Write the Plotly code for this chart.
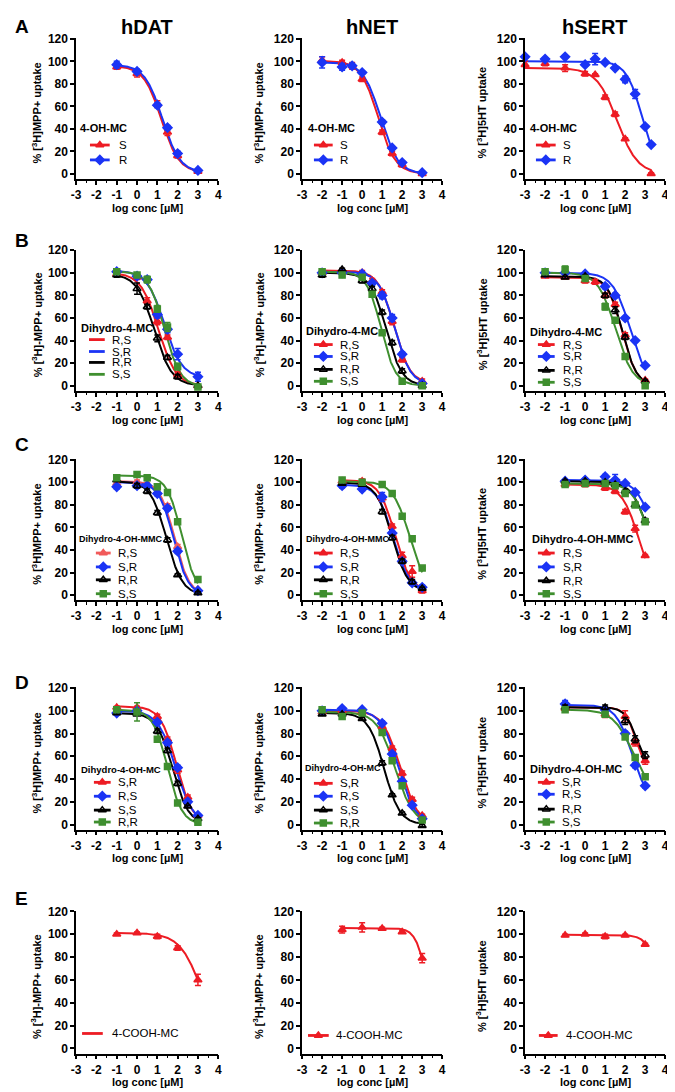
import numpy as np
import plotly.graph_objects as go

W, H = 675, 1092
SHIFT = 8  # page body margin offset compensation
FONT = "Liberation Sans, Arial, sans-serif"

# ---------------- tick / label data ----------------
x_ticks = [-3, -2, -1, 0, 1, 2, 3, 4]
x_tick_labels = ["-3", "-2", "-1", "0", "1", "2", "3", "4"]
y_ticks = [0, 20, 40, 60, 80, 100, 120]
columns = ["hDAT", "hNET", "hSERT"]
row_letters = ["A", "B", "C", "D", "E"]
x_title = "log conc [µM]"

# fit parameters are [top, bottom, logIC50, Hill slope]

# ---------------- A: 4-OH-MC ----------------
A_DAT_conc = [-1, 0, 1, 1.5, 2, 3]
A_DAT_S = [95, 89, 62, 37, 16, 2]
A_DAT_S_err = [2, 3, 3, 3, 2, 1]
A_DAT_R = [97, 91, 61, 41, 18, 3]
A_DAT_R_err = [3, 2, 2, 2, 2, 1]
A_DAT_S_fit = [96, 1, 1.2, 1.0]
A_DAT_R_fit = [97, 1, 1.25, 1.0]

A_NET_conc = [-2, -1, -0.5, 0, 1, 1.5, 2, 3]
A_NET_S = [101, 99, 96, 84, 37, 18, 8, 0]
A_NET_S_err = [3, 2, 3, 2, 2, 2, 2, 1]
A_NET_R = [99, 95, 96, 90, 46, 23, 10, 1]
A_NET_R_err = [5, 3, 2, 1, 2, 1, 1, 1]
A_NET_S_fit = [100.5, 0, 0.8, 1.0]
A_NET_R_fit = [99, 0, 0.93, 1.0]

A_SERT_S_conc = [-3, -2, -1, 0, 0.5, 1, 1.5, 2, 3.3]
A_SERT_S = [97, 98, 94, 89, 88, 68, 53, 31, 0]
A_SERT_S_err = [3, 2, 3, 2, 1, 2, 2, 1, 1]
A_SERT_R_conc = [-3, -2, -1, 0, 0.5, 1, 1.5, 2, 2.5, 3, 3.3]
A_SERT_R = [104, 102, 104, 97, 102, 99, 94, 84, 71, 42, 26]
A_SERT_R_err = [1, 1, 1, 1, 5, 1, 1, 3, 4, 1, 1]
A_SERT_S_fit = [94, 0, 1.6, 0.85]
A_SERT_R_fit = [100, 0, 2.85, 1.1]

# ---------------- B: Dihydro-4-MC ----------------
B_DAT_conc = [-1, 0, 0.5, 1, 1.5, 2, 3]
B_DAT_RS = [99, 96, 75, 57, 43, 10, 0]
B_DAT_SR = [101, 97, 94, 63, 50, 28, 8]
B_DAT_RR = [98, 86, 70, 42, 25, 8, 0]
B_DAT_SS = [101, 98, 94, 68, 52, 17, -1]
B_DAT_RS_err = [2, 2, 3, 3, 2, 2, 1]
B_DAT_SR_err = [2, 2, 2, 3, 3, 5, 4]
B_DAT_RR_err = [2, 5, 2, 3, 2, 2, 1]
B_DAT_SS_err = [2, 2, 3, 3, 4, 3, 1]
B_DAT_RS_fit = [100, 0, 1.05, 1.0]
B_DAT_SR_fit = [102, 7, 1.35, 1.0]
B_DAT_RR_fit = [99, 0, 0.85, 1.0]
B_DAT_SS_fit = [101.5, -1, 1.35, 1.1]

B_NET_conc = [-2, -1, 0, 0.5, 1, 1.5, 2, 3]
B_NET_RS = [100, 102, 100, 93, 83, 57, 23, 4]
B_NET_SR = [100, 100, 99, 91, 80, 60, 28, 2]
B_NET_RR = [98, 103, 93, 86, 65, 38, 13, 0]
B_NET_SS = [101, 98, 96, 81, 47, None, 4, 0]
B_NET_RS_err = [2, 1, 2, 2, 2, 3, 2, 2]
B_NET_SR_err = [2, 1, 2, 2, 3, 3, 2, 1]
B_NET_RR_err = [2, 1, 2, 2, 2, 2, 2, 1]
B_NET_SS_err = [2, 1, 1, 2, 2, 0, 1, 1]
B_NET_RS_fit = [102, 2, 1.6, 1.1]
B_NET_SR_fit = [101, 1, 1.62, 1.1]
B_NET_RR_fit = [100, 0, 1.2, 1.1]
B_NET_SS_fit = [101, 0, 0.95, 1.2]

B_SERT_conc = [-2, -1, 0, 0.5, 1, 1.5, 2, 2.5, 3]
B_SERT_RS = [97, 96, 93, 92, 80, 72, 45, None, 5]
B_SERT_SR = [100, 100, 99, None, 88, 80, 60, 40, 18]
B_SERT_RR = [98, 96, 97, None, 80, 67, 43, None, 4]
B_SERT_SS = [101, 103, 95, None, 70, 58, 26, None, 0]
B_SERT_RS_err = [1, 1, 2, 2, 2, 2, 2, 0, 1]
B_SERT_SR_err = [1, 1, 1, 0, 2, 2, 1, 1, 1]
B_SERT_RR_err = [1, 1, 1, 0, 2, 3, 2, 0, 1]
B_SERT_SS_err = [1, 3, 2, 0, 3, 2, 1, 0, 1]
B_SERT_RS_fit = [96, 0, 1.85, 1.2]
B_SERT_SR_fit = [100, 0, 2.25, 1.0]
B_SERT_RR_fit = [97, 0, 1.85, 1.2]
B_SERT_SS_fit = [100, 0, 1.52, 1.0]

# ---------------- C: Dihydro-4-OH-MMC ----------------
C_DAT_conc = [-1, 0, 0.5, 1, 1.5, 2, 3]
C_DAT_RS = [99, 100, 98, 91, 79, 43, 5]
C_DAT_SR = [96, 97, 97, 90, 77, 39, 4]
C_DAT_RR = [102, 97, 92, 73, 49, 18, 2]
C_DAT_SS = [104, 107, 104, 96, 91, 65, 14]
C_DAT_RS_err = [2, 2, 2, 2, 2, 2, 1]
C_DAT_SR_err = [2, 2, 1, 2, 2, 2, 1]
C_DAT_RR_err = [1, 2, 2, 2, 2, 1, 1]
C_DAT_SS_err = [1, 2, 1, 2, 1, 2, 1]
C_DAT_RS_fit = [101, 0, 1.85, 1.2]
C_DAT_SR_fit = [100, 0, 1.8, 1.2]
C_DAT_RR_fit = [101, 0, 1.45, 1.1]
C_DAT_SS_fit = [106, 0, 2.2, 1.2]

C_NET_conc = [-1, 0, 1, 1.5, 2, 2.5, 3]
C_NET_RS = [101, 101, 86, 61, 35, 21, 4]
C_NET_SR = [97, 94, 87, 55, 30, 11, 7]
C_NET_RR = [99, 98, 74, 51, 30, 12, 6]
C_NET_SS = [102, 100, 98, 90, 70, 50, 24]
C_NET_RS_err = [2, 2, 3, 2, 3, 5, 2]
C_NET_SR_err = [2, 2, 4, 2, 2, 2, 2]
C_NET_RR_err = [1, 1, 2, 2, 2, 2, 1]
C_NET_SS_err = [1, 1, 1, 1, 1, 1, 1]
C_NET_RS_fit = [102, 3, 1.65, 1.1]
C_NET_SR_fit = [98, 4, 1.55, 1.1]
C_NET_RR_fit = [100, 3, 1.5, 1.1]
C_NET_SS_fit = [101, 0, 2.4, 1.0]

C_SERT_conc = [-1, 0, 1, 1.5, 2, 2.5, 3]
C_SERT_RS = [98, 98, 95, 92, 74, 59, 35]
C_SERT_SR = [101, 102, 105, 102, 99, 91, 78]
C_SERT_RR = [101, 101, 100, 98, 92, 80, 66]
C_SERT_SS = [98, 99, 99, 97, 90, 80, 65]
C_SERT_RS_err = [1, 2, 2, 2, 2, 3, 1]
C_SERT_SR_err = [1, 1, 2, 5, 1, 1, 1]
C_SERT_RR_err = [1, 1, 1, 1, 1, 1, 2]
C_SERT_SS_err = [1, 1, 1, 1, 1, 2, 1]
C_SERT_RS_fit = [98, 0, 2.7, 1.0]
C_SERT_SR_fit = [102, 0, 3.5, 1.0]
C_SERT_RR_fit = [101, 0, 3.25, 1.0]
C_SERT_SS_fit = [99, 0, 3.25, 1.05]

# ---------------- D: Dihydro-4-OH-MC ----------------
D_DAT_conc = [-1, 0, 1, 1.5, 2, 2.5, 3]
D_DAT_SR = [103, 103, 95, 75, 48, 24, 8]
D_DAT_RS = [98, 100, 90, 72, 50, 20, 8]
D_DAT_SS = [98, 97, 82, 65, 36, 16, 5]
D_DAT_RR = [101, 99, 75, 51, 19, None, 2]
D_DAT_SR_err = [1, 1, 2, 2, 3, 2, 1]
D_DAT_RS_err = [1, 1, 2, 2, 2, 2, 1]
D_DAT_SS_err = [1, 1, 2, 2, 2, 1, 1]
D_DAT_RR_err = [1, 8, 2, 2, 1, 0, 1]
D_DAT_SR_fit = [104, 0, 1.95, 1.1]
D_DAT_RS_fit = [100, 0, 1.9, 1.0]
D_DAT_SS_fit = [98, 0, 1.75, 1.1]
D_DAT_RR_fit = [101, 0, 1.5, 1.2]

D_NET_conc = [-2, -1, 0, 1, 1.5, 2, 2.5, 3]
D_NET_SR = [99, 100, 99, 86, 67, 45, 22, 8]
D_NET_RS = [100, 102, 101, 89, 62, 38, 17, 5]
D_NET_SS = [97, 97, 93, 54, 26, 10, None, -1]
D_NET_RR = [101, 95, 98, 81, 56, 34, None, 4]
D_NET_SR_err = [1, 1, 1, 2, 2, 2, 2, 1]
D_NET_RS_err = [1, 1, 1, 2, 2, 2, 1, 1]
D_NET_SS_err = [1, 1, 1, 2, 1, 1, 0, 1]
D_NET_RR_err = [2, 2, 2, 2, 2, 1, 0, 1]
D_NET_SR_fit = [100, 0, 1.9, 1.0]
D_NET_RS_fit = [101, 0, 1.8, 1.0]
D_NET_SS_fit = [98, 0, 1.1, 1.1]
D_NET_RR_fit = [99, 0, 1.65, 0.95]

D_SERT_conc = [-1, 1, 2, 2.5, 3]
D_SERT_SR = [102, 97, 95, 72, 56]
D_SERT_RS = [106, 101, 80, 52, 34]
D_SERT_RR = [103, 103, 91, 75, 61]
D_SERT_SS = [101, 97, 77, 59, 42]
D_SERT_SR_err = [2, 3, 5, 3, 3]
D_SERT_RS_err = [3, 2, 2, 2, 2]
D_SERT_RR_err = [2, 2, 3, 3, 3]
D_SERT_SS_err = [1, 2, 2, 2, 2]
D_SERT_SR_fit = [103, 45, 2.55, 1.6]
D_SERT_RS_fit = [105, 20, 2.33, 1.1]
D_SERT_RR_fit = [103, 50, 2.55, 1.5]
D_SERT_SS_fit = [101, 25, 2.4, 0.87]

# ---------------- E: 4-COOH-MC ----------------
E_conc = [-1, 0, 1, 2, 3]
E_DAT = [100, 101, 98, 88, 60]
E_DAT_err = [1, 1, 2, 2, 5]
E_DAT_fit = [101, 0, 3.2, 0.8]
E_NET = [104, 106, 105, 102, 79]
E_NET_err = [3, 4, 1, 1, 4]
E_NET_fit = [105.5, 0, 3.3, 1.5]
E_SERT = [99, 100, 98, 99, 91]
E_SERT_err = [1, 1, 2, 1, 1]
E_SERT_fit = [99.5, 0, 3.85, 1.3]

# ---------------- styles ----------------
RED = "#ed1c24"
RED_LIGHT = "#f15a5a"
BLUE = "#1b34f5"
BLACK = "#000000"
GREEN = "#3f8f2f"
TRI = ("triangle-up", 7)
DIA = ("diamond", 7)
OTRI = ("triangle-up-open", 7)
SQ = ("square", 6)

MPP = "% [<sup>3</sup>H]MPP+ uptake"
MPP2 = "% [<sup>3</sup>H]-MPP+ uptake"
SHT = "% [<sup>3</sup>H]5HT uptake"

panels = [
    # row A
    dict(ylab=MPP, ltitle="4-OH-MC", lfs=11, series=[
        ("S", A_DAT_conc, A_DAT_S, A_DAT_S_err, A_DAT_S_fit, RED, TRI),
        ("R", A_DAT_conc, A_DAT_R, A_DAT_R_err, A_DAT_R_fit, BLUE, DIA)]),
    dict(ylab=MPP, ltitle="4-OH-MC", lfs=11, series=[
        ("S", A_NET_conc, A_NET_S, A_NET_S_err, A_NET_S_fit, RED, TRI),
        ("R", A_NET_conc, A_NET_R, A_NET_R_err, A_NET_R_fit, BLUE, DIA)]),
    dict(ylab=SHT, ltitle="4-OH-MC", lfs=11, series=[
        ("S", A_SERT_S_conc, A_SERT_S, A_SERT_S_err, A_SERT_S_fit, RED, TRI),
        ("R", A_SERT_R_conc, A_SERT_R, A_SERT_R_err, A_SERT_R_fit, BLUE, DIA)]),
    # row B
    dict(ylab=MPP2, ltitle="Dihydro-4-MC", lfs=11, lmarkers=False, series=[
        ("R,S", B_DAT_conc, B_DAT_RS, B_DAT_RS_err, B_DAT_RS_fit, RED, TRI),
        ("S,R", B_DAT_conc, B_DAT_SR, B_DAT_SR_err, B_DAT_SR_fit, BLUE, DIA),
        ("R,R", B_DAT_conc, B_DAT_RR, B_DAT_RR_err, B_DAT_RR_fit, BLACK, OTRI),
        ("S,S", B_DAT_conc, B_DAT_SS, B_DAT_SS_err, B_DAT_SS_fit, GREEN, SQ)]),
    dict(ylab=MPP2, ltitle="Dihydro-4-MC", lfs=11, series=[
        ("R,S", B_NET_conc, B_NET_RS, B_NET_RS_err, B_NET_RS_fit, RED, TRI),
        ("S,R", B_NET_conc, B_NET_SR, B_NET_SR_err, B_NET_SR_fit, BLUE, DIA),
        ("R,R", B_NET_conc, B_NET_RR, B_NET_RR_err, B_NET_RR_fit, BLACK, OTRI),
        ("S,S", B_NET_conc, B_NET_SS, B_NET_SS_err, B_NET_SS_fit, GREEN, SQ)]),
    dict(ylab=SHT, ltitle="Dihydro-4-MC", lfs=11, series=[
        ("R,S", B_SERT_conc, B_SERT_RS, B_SERT_RS_err, B_SERT_RS_fit, RED, TRI),
        ("S,R", B_SERT_conc, B_SERT_SR, B_SERT_SR_err, B_SERT_SR_fit, BLUE, DIA),
        ("R,R", B_SERT_conc, B_SERT_RR, B_SERT_RR_err, B_SERT_RR_fit, BLACK, OTRI),
        ("S,S", B_SERT_conc, B_SERT_SS, B_SERT_SS_err, B_SERT_SS_fit, GREEN, SQ)]),
    # row C
    dict(ylab=MPP, ltitle="Dihydro-4-OH-MMC", lfs=9, series=[
        ("R,S", C_DAT_conc, C_DAT_RS, C_DAT_RS_err, C_DAT_RS_fit, RED_LIGHT, TRI),
        ("S,R", C_DAT_conc, C_DAT_SR, C_DAT_SR_err, C_DAT_SR_fit, BLUE, DIA),
        ("R,R", C_DAT_conc, C_DAT_RR, C_DAT_RR_err, C_DAT_RR_fit, BLACK, OTRI),
        ("S,S", C_DAT_conc, C_DAT_SS, C_DAT_SS_err, C_DAT_SS_fit, GREEN, SQ)]),
    dict(ylab=MPP, ltitle="Dihydro-4-OH-MMC", lfs=9, series=[
        ("R,S", C_NET_conc, C_NET_RS, C_NET_RS_err, C_NET_RS_fit, RED, TRI),
        ("S,R", C_NET_conc, C_NET_SR, C_NET_SR_err, C_NET_SR_fit, BLUE, DIA),
        ("R,R", C_NET_conc, C_NET_RR, C_NET_RR_err, C_NET_RR_fit, BLACK, OTRI),
        ("S,S", C_NET_conc, C_NET_SS, C_NET_SS_err, C_NET_SS_fit, GREEN, SQ)]),
    dict(ylab=SHT, ltitle="Dihydro-4-OH-MMC", lfs=11, series=[
        ("R,S", C_SERT_conc, C_SERT_RS, C_SERT_RS_err, C_SERT_RS_fit, RED, TRI),
        ("S,R", C_SERT_conc, C_SERT_SR, C_SERT_SR_err, C_SERT_SR_fit, BLUE, DIA),
        ("R,R", C_SERT_conc, C_SERT_RR, C_SERT_RR_err, C_SERT_RR_fit, BLACK, OTRI),
        ("S,S", C_SERT_conc, C_SERT_SS, C_SERT_SS_err, C_SERT_SS_fit, GREEN, SQ)]),
    # row D
    dict(ylab=MPP, ltitle="Dihydro-4-OH-MC", lfs=9.5, series=[
        ("S,R", D_DAT_conc, D_DAT_SR, D_DAT_SR_err, D_DAT_SR_fit, RED, TRI),
        ("R,S", D_DAT_conc, D_DAT_RS, D_DAT_RS_err, D_DAT_RS_fit, BLUE, DIA),
        ("S,S", D_DAT_conc, D_DAT_SS, D_DAT_SS_err, D_DAT_SS_fit, BLACK, OTRI),
        ("R,R", D_DAT_conc, D_DAT_RR, D_DAT_RR_err, D_DAT_RR_fit, GREEN, SQ)]),
    dict(ylab=MPP, ltitle="Dihydro-4-OH-MC", lfs=9, series=[
        ("S,R", D_NET_conc, D_NET_SR, D_NET_SR_err, D_NET_SR_fit, RED, TRI),
        ("R,S", D_NET_conc, D_NET_RS, D_NET_RS_err, D_NET_RS_fit, BLUE, DIA),
        ("S,S", D_NET_conc, D_NET_SS, D_NET_SS_err, D_NET_SS_fit, BLACK, OTRI),
        ("R,R", D_NET_conc, D_NET_RR, D_NET_RR_err, D_NET_RR_fit, GREEN, SQ)]),
    dict(ylab=SHT, ltitle="Dihydro-4-OH-MC", lfs=11, series=[
        ("S,R", D_SERT_conc, D_SERT_SR, D_SERT_SR_err, D_SERT_SR_fit, RED, TRI),
        ("R,S", D_SERT_conc, D_SERT_RS, D_SERT_RS_err, D_SERT_RS_fit, BLUE, DIA),
        ("R,R", D_SERT_conc, D_SERT_RR, D_SERT_RR_err, D_SERT_RR_fit, BLACK, OTRI),
        ("S,S", D_SERT_conc, D_SERT_SS, D_SERT_SS_err, D_SERT_SS_fit, GREEN, SQ)]),
    # row E
    dict(ylab=MPP2, ltitle=None, lfs=11, lmarkers=False, series=[
        ("4-COOH-MC", E_conc, E_DAT, E_DAT_err, E_DAT_fit, RED, TRI)]),
    dict(ylab=MPP2, ltitle=None, lfs=11, series=[
        ("4-COOH-MC", E_conc, E_NET, E_NET_err, E_NET_fit, RED, TRI)]),
    dict(ylab=SHT, ltitle=None, lfs=11, series=[
        ("4-COOH-MC", E_conc, E_SERT, E_SERT_err, E_SERT_fit, RED, TRI)]),
]

# legend layout (target pixels): title (x, y), entry ys, line x0, x1, text x
legend_pos = [
    dict(t=(74, 123), ys=[140, 155], lx=(86, 106), tx=113),
    dict(t=(305, 123), ys=[140, 155], lx=(313, 332), tx=337),
    dict(t=(530, 123), ys=[140, 155], lx=(538, 558), tx=563),
    dict(t=(75, 324), ys=[336, 348, 359, 371], lx=(85, 101), tx=106),
    dict(t=(303, 327), ys=[341, 353, 366, 378], lx=(313, 332), tx=337),
    dict(t=(530, 328), ys=[341, 353, 367, 379], lx=(540, 557), tx=563),
    dict(t=(73, 537), ys=[551, 565, 578, 592], lx=(92, 107), tx=112),
    dict(t=(303, 537), ys=[551, 565, 578, 592], lx=(313, 332), tx=337),
    dict(t=(532, 537), ys=[551, 565, 579, 592], lx=(540, 557), tx=563),
    dict(t=(75, 769), ys=[782, 796, 810, 822], lx=(90, 107), tx=112),
    dict(t=(302, 768), ys=[783, 796, 810, 823], lx=(313, 332), tx=337),
    dict(t=(530, 769), ys=[782, 794, 809, 822], lx=(540, 557), tx=562),
    dict(t=None, ys=[1035], lx=(78, 99), tx=106),
    dict(t=None, ys=[1037], lx=(307, 328), tx=333),
    dict(t=None, ys=[1037], lx=(541, 560), tx=566),
]

# panel geometry (target pixels)
col_left = [72, 301, 527]
col_right = [216, 443, 669]
ylab_off = [40, 44, 44]
row_y120 = [33, 246, 457, 687, 912]
row_y0 = [169, 382.5, 593.5, 824.5, 1050]
letter_top = [2, 224, 429, 669, 886]
Y_LO, Y_HI = -4.5, 120.5


def px(x):
    return min(max((x - SHIFT) / W, 0.0), 1.0)


def py(y):
    return min(max(1 - (y - SHIFT) / H, 0.0), 1.0)


def logistic(xs, p):
    top, bottom, logic, hill = p
    return bottom + (top - bottom) / (1 + 10 ** (hill * (xs - logic)))


fig = go.Figure()
layout = dict(width=W, height=H, margin=dict(l=0, r=0, t=0, b=0), autosize=False,
              paper_bgcolor="white", plot_bgcolor="rgba(0,0,0,0)", showlegend=False,
              font=dict(family=FONT, color="black"))
annotations = []
shapes = []

for i, p in enumerate(panels):
    r, c = divmod(i, 3)
    n = i + 1
    xa = "x" if n == 1 else f"x{n}"
    ya = "y" if n == 1 else f"y{n}"
    y120, y0 = row_y120[r], row_y0[r]
    u = (y0 - y120) / 120.0
    top_px = y120 - (Y_HI - 120) * u
    bot_px = y0 - Y_LO * u
    layout["xaxis" if n == 1 else f"xaxis{n}"] = dict(
        domain=[px(col_left[c]), px(col_right[c])], anchor=ya, range=[-3, 4],
        tickmode="array", tickvals=x_ticks, ticktext=x_tick_labels,
        ticks="outside", ticklen=4, tickwidth=1.5, tickcolor="black",
        showline=True, linewidth=1.6, linecolor="black", showgrid=False, zeroline=False,
        tickfont=dict(family=FONT, size=12, weight="bold"),
        minor=dict(dtick=0.5, tick0=0, ticks="outside", ticklen=2.5, tickwidth=1.2, tickcolor="black"),
        fixedrange=True)
    layout["yaxis" if n == 1 else f"yaxis{n}"] = dict(
        domain=[py(bot_px), py(top_px)], anchor=xa, range=[Y_LO, Y_HI],
        tickmode="array", tickvals=y_ticks, ticks="outside", ticklen=4, tickwidth=1.5,
        tickcolor="black", showline=True, linewidth=1.6, linecolor="black",
        showgrid=False, zeroline=False,
        tickfont=dict(family=FONT, size=12, weight="bold"), fixedrange=True)

    # fitted curves, then data points with error bars
    for (name, xs, ys, err, fit, color, (sym, msz)) in p["series"]:
        xfit = np.linspace(min(xs), max(xs), 300)
        fig.add_trace(go.Scatter(x=xfit, y=logistic(xfit, fit), mode="lines",
                                 line=dict(color=color, width=2), xaxis=xa, yaxis=ya,
                                 hoverinfo="skip"))
    for (name, xs, ys, err, fit, color, (sym, msz)) in p["series"]:
        fig.add_trace(go.Scatter(
            x=xs, y=ys, mode="markers", name=name, xaxis=xa, yaxis=ya, cliponaxis=False,
            marker=dict(symbol=sym, size=msz, color=color, line=dict(color=color, width=1.5)),
            error_y=dict(type="data", array=err, visible=True, color=color, thickness=1.5, width=3)))

    # axis titles and column titles
    annotations.append(dict(text=p["ylab"], x=px(col_left[c] - ylab_off[c]),
                            y=py((y120 + bot_px) / 2 + 4), xref="paper", yref="paper",
                            textangle=-90, showarrow=False, xanchor="center", yanchor="middle",
                            font=dict(family=FONT, size=11, weight="bold")))
    annotations.append(dict(text=x_title, x=px((col_left[c] + col_right[c]) / 2),
                            y=py(bot_px + 29), xref="paper", yref="paper", showarrow=False,
                            xanchor="center", yanchor="middle",
                            font=dict(family=FONT, size=11, weight="bold")))
    if r == 0:
        annotations.append(dict(text=columns[c], x=px((col_left[c] + col_right[c]) / 2),
                                y=py(21), xref="paper", yref="paper", showarrow=False,
                                xanchor="center", yanchor="middle",
                                font=dict(family=FONT, size=20, weight="bold")))
    if c == 0:
        annotations.append(dict(text=row_letters[r], x=px(1), y=py(letter_top[r]),
                                xref="paper", yref="paper", showarrow=False,
                                xanchor="left", yanchor="top",
                                font=dict(family=FONT, size=19, weight="bold")))

    # legend drawn by hand in the panel
    lp = legend_pos[i]
    if p["ltitle"]:
        annotations.append(dict(text=p["ltitle"], x=px(lp["t"][0]), y=py(lp["t"][1]),
                                xref="paper", yref="paper", showarrow=False,
                                xanchor="left", yanchor="middle",
                                font=dict(family=FONT, size=p["lfs"], weight="bold")))
    for (name, xs, ys, err, fit, color, (sym, msz)), ly in zip(p["series"], lp["ys"]):
        x0, x1 = lp["lx"]
        shapes.append(dict(type="line", xref="paper", yref="paper",
                           x0=px(x0), x1=px(x1), y0=py(ly), y1=py(ly),
                           line=dict(color=color, width=2.8)))
        if p.get("lmarkers", True):
            fig.add_trace(go.Scatter(x=[(x0 + x1) / 2], y=[ly], mode="markers",
                                     xaxis="x16", yaxis="y16", hoverinfo="skip",
                                     marker=dict(symbol=sym, size=msz, color=color,
                                                 line=dict(color=color, width=1.5))))
        annotations.append(dict(text=name, x=px(lp["tx"]), y=py(ly), xref="paper", yref="paper",
                                showarrow=False, xanchor="left", yanchor="middle",
                                font=dict(family=FONT, size=11.5)))

# overlay axes in target-pixel units for legend glyphs
layout["xaxis16"] = dict(domain=[0, 1], range=[SHIFT, W + SHIFT], visible=False,
                         anchor="y16", fixedrange=True)
layout["yaxis16"] = dict(domain=[0, 1], range=[H + SHIFT, SHIFT], visible=False,
                         anchor="x16", fixedrange=True)
layout["annotations"] = annotations
layout["shapes"] = shapes
fig.update_layout(**layout)
fig.write_html("out.html")
